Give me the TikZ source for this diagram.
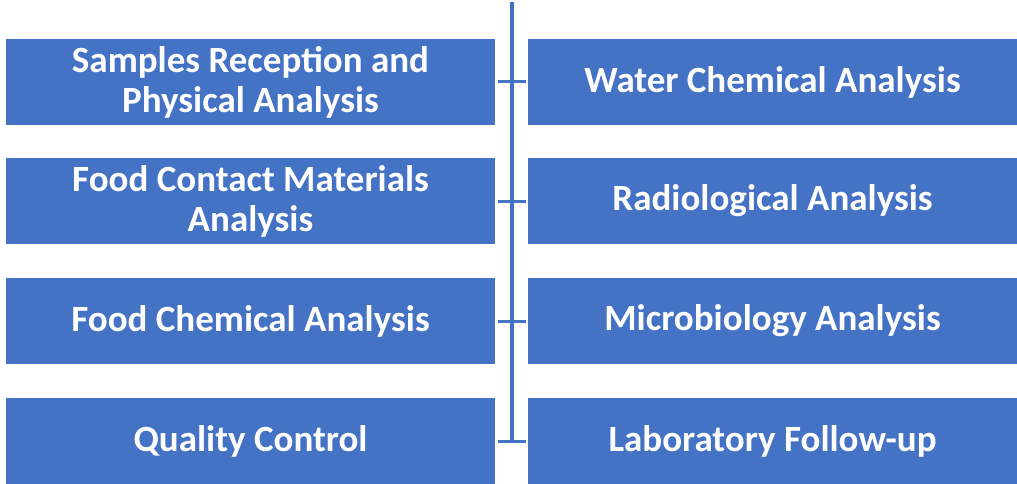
\documentclass[tikz,border=0pt]{standalone}
\usepackage{fontspec}
\setmainfont{Carlito}
\usepackage{tikz}
\usetikzlibrary{positioning}

\definecolor{officeblue}{HTML}{4472C4}

\begin{document}
\begin{tikzpicture}
[
	              x = 1pt,
	              y = -1pt,
	     box/.style = { fill=officeblue, draw=none, minimum width=489pt, minimum height=86pt,
	                    inner sep=0pt, align=center, text=white,
	                    font=\fontsize{37}{40}\selectfont\bfseries },
	   spine/.style = { draw=officeblue, line width=4pt },
	    tick/.style = { draw=officeblue, line width=3pt }
]
	\useasboundingbox (0,0) rectangle (1017,484);

	% left column
	\node (L1) at (250.5,82)  [box] {Samples Reception and\\Physical Analysis};
	\node (L2) at (250.5,201) [box] {Food Contact Materials\\Analysis};
	\node (L3) at (250.5,321) [box] {Food Chemical Analysis};
	\node (L4) at (250.5,441) [box] {Quality Control};

	% right column
	\node (R1) at (772.5,82)  [box] {Water Chemical Analysis};
	\node (R2) at (772.5,201) [box] {Radiological Analysis};
	\node (R3) at (772.5,321) [box] {Microbiology Analysis};
	\node (R4) at (772.5,441) [box] {Laboratory Follow-up};

	% spine
	\coordinate (top) at (512,2);
	\coordinate (bot) at (512,441);
	\draw [spine] (top) -- (bot);

	% ticks
	\draw [tick] ([xshift=3pt]L1.east) -- ([xshift=-2pt]R1.west);
	\draw [tick] ([xshift=3pt]L2.east) -- ([xshift=-2pt]R2.west);
	\draw [tick] ([xshift=3pt]L3.east) -- ([xshift=-2pt]R3.west);
	\draw [tick] ([xshift=3pt]L4.east) -- ([xshift=-2pt]R4.west);
\end{tikzpicture}
\end{document}
